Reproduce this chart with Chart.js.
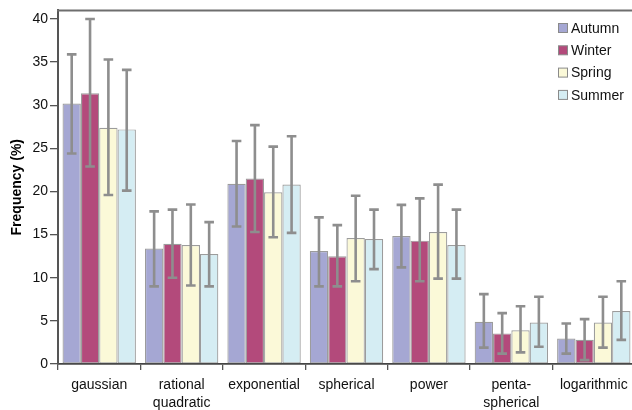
<!DOCTYPE html>
<html>
<head>
<meta charset="utf-8">
<script src="https://cdn.jsdelivr.net/npm/chart.js@4/dist/chart.umd.min.js"></script>
<style>
html,body{margin:0;padding:0;background:#fff;overflow:hidden;}
canvas{display:block;}
</style>
</head>
<body>
<canvas id="c" width="640" height="410"></canvas>
<script>
const categories = ['gaussian', ['rational', 'quadratic'], 'exponential', 'spherical', 'power', ['penta-', 'spherical'], 'logarithmic'];
const seasons = ['Autumn', 'Winter', 'Spring', 'Summer'];
const yTicks = [0, 5, 10, 15, 20, 25, 30, 35, 40];

const autumn     = [30.2, 13.4, 20.9, 13.1, 14.85, 4.9, 2.95];
const autumnLow  = [24.4, 9.0, 15.95, 9.0, 11.2, 1.9, 1.2];
const autumnHigh = [35.9, 17.7, 25.85, 17.0, 18.45, 8.1, 4.7];

const winter     = [31.4, 13.95, 21.5, 12.5, 14.3, 3.55, 2.8];
const winterLow  = [22.9, 10.0, 15.3, 9.0, 9.6, 1.2, 0.45];
const winterHigh = [40.0, 17.9, 27.7, 16.1, 19.2, 5.9, 5.2];

const spring     = [27.4, 13.8, 19.9, 14.6, 15.3, 3.9, 4.8];
const springLow  = [19.6, 9.1, 14.7, 9.6, 9.9, 1.35, 1.9];
const springHigh = [35.3, 18.5, 25.2, 19.5, 20.8, 6.7, 7.8];

const summer     = [27.2, 12.75, 20.8, 14.5, 13.8, 4.8, 6.15];
const summerLow  = [20.1, 9.0, 15.2, 11.0, 9.9, 2.0, 2.8];
const summerHigh = [34.1, 16.45, 26.4, 17.9, 17.9, 7.8, 9.6];

const colors = ['#A5A7D3', '#B34A7B', '#FBF9D8', '#D5EDF3'];
const values = [autumn, winter, spring, summer];
const lows = [autumnLow, winterLow, springLow, summerLow];
const highs = [autumnHigh, winterHigh, springHigh, summerHigh];

const FONT = '"Liberation Sans", Arial, sans-serif';

const errorBars = {
  id: 'errorBars',
  afterDatasetsDraw(chart) {
    const ctx = chart.ctx;
    const y = chart.scales.y;
    ctx.save();
    ctx.strokeStyle = '#8E8E8E';
    ctx.lineWidth = 2.6;
    chart.data.datasets.forEach((ds, di) => {
      const meta = chart.getDatasetMeta(di);
      meta.data.forEach((bar, i) => {
        const x = bar.x;
        const yl = y.getPixelForValue(lows[di][i]);
        const yh = y.getPixelForValue(highs[di][i]);
        const cap = 4.8;
        ctx.beginPath();
        ctx.moveTo(x, yl); ctx.lineTo(x, yh);
        ctx.moveTo(x - cap, yl); ctx.lineTo(x + cap, yl);
        ctx.moveTo(x - cap, yh); ctx.lineTo(x + cap, yh);
        ctx.stroke();
      });
    });
    ctx.restore();
  }
};

const frameAndLegend = {
  id: 'frameAndLegend',
  afterDraw(chart) {
    const ctx = chart.ctx;
    const a = chart.chartArea;
    ctx.save();
    ctx.strokeStyle = '#6E6E6E';
    ctx.lineWidth = 2;
    ctx.beginPath();
    ctx.moveTo(a.left - 1, a.top);
    ctx.lineTo(chart.width, a.top);
    ctx.stroke();
    // legend
    ctx.font = '14px ' + FONT;
    ctx.textBaseline = 'middle';
    ctx.textAlign = 'left';
    chart.data.datasets.forEach((ds, i) => {
      const cy = 28 + i * 22.3;
      ctx.fillStyle = ds.backgroundColor;
      ctx.fillRect(558.5, cy - 4.5, 9, 9);
      ctx.strokeStyle = '#8A8A8A';
      ctx.lineWidth = 1;
      ctx.strokeRect(558.5, cy - 4.5, 9, 9);
      ctx.fillStyle = '#111';
      ctx.fillText(ds.label, 571, cy + 1);
    });
    ctx.restore();
  }
};

new Chart(document.getElementById('c'), {
  type: 'bar',
  data: {
    labels: categories,
    datasets: seasons.map((s, i) => ({
      label: s,
      data: values[i],
      backgroundColor: colors[i],
      borderColor: '#9C9C9C',
      borderWidth: 1.2,
      borderSkipped: false,
      categoryPercentage: 0.89,
      barPercentage: 1.0
    }))
  },
  options: {
    responsive: false,
    devicePixelRatio: 1,
    animation: false,
    layout: { padding: { top: 6, right: 5, left: 0, bottom: 0 } },
    plugins: { legend: { display: false }, tooltip: { enabled: false } },
    scales: {
      x: {
        offset: true,
        grid: { display: true, drawOnChartArea: false, drawTicks: true, tickLength: 6, color: '#555', lineWidth: 1.3, offset: true },
        border: { display: true, color: '#444', width: 1.8 },
        ticks: { color: '#111', font: { family: FONT, size: 14, lineHeight: 1.3 }, padding: 6, maxRotation: 0, autoSkip: false },
        afterFit(scale) { scale.height = 46; }
      },
      y: {
        min: 0,
        max: 41,
        afterBuildTicks(scale) { scale.ticks = yTicks.map(v => ({ value: v })); },
        grid: { display: true, drawOnChartArea: false, drawTicks: true, tickLength: 8, color: '#555', lineWidth: 1.3 },
        border: { display: true, color: '#555', width: 2 },
        ticks: { color: '#111', font: { family: FONT, size: 14 }, padding: 2 },
        title: { display: true, text: 'Frequency (%)', color: '#000', font: { family: FONT, size: 14, weight: 'bold' }, padding: { top: 9, bottom: 0 } },
        afterFit(scale) { scale.width = 58; }
      }
    }
  },
  plugins: [errorBars, frameAndLegend]
});
</script>
</body>
</html>
